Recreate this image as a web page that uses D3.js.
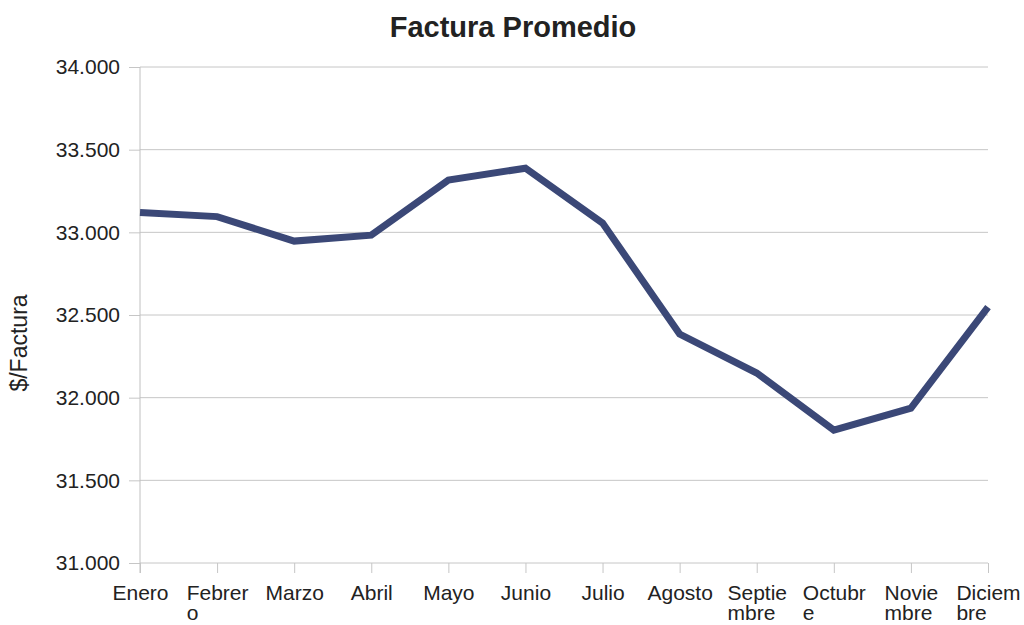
<!DOCTYPE html>
<html>
<head>
<meta charset="utf-8">
<script src="https://cdn.jsdelivr.net/npm/d3@7"></script>
<style>
  body { margin: 0; background: #fff; }
  text { font-family: "Liberation Sans", Arial, sans-serif; fill: #222; }
</style>
</head>
<body>
<div id="chart"></div>
<script>
const months = ["Enero", "Febrero", "Marzo", "Abril", "Mayo", "Junio", "Julio", "Agosto", "Septiembre", "Octubre", "Noviembre", "Diciembre"];
// wrapped the way the original chart breaks them
const monthLabels = [["Enero"], ["Febrer", "o"], ["Marzo"], ["Abril"], ["Mayo"], ["Junio"], ["Julio"], ["Agosto"], ["Septie", "mbre"], ["Octubr", "e"], ["Novie", "mbre"], ["Diciem", "bre"]];
const facturaValues = [33120, 33095, 32947, 32983, 33316, 33388, 33056, 32385, 32149, 31804, 31937, 32548];
const yTicks = [31000, 31500, 32000, 32500, 33000, 33500, 34000];

const width = 1024, height = 625;
const margin = { top: 67, right: 36, bottom: 62, left: 140 };

const svg = d3.select("#chart")
  .append("svg")
  .attr("width", width)
  .attr("height", height);

const x = d3.scalePoint()
  .domain(months)
  .range([margin.left, width - margin.right]);

const y = d3.scaleLinear()
  .domain([31000, 34000])
  .range([height - margin.bottom, margin.top]);

// y axis
const yAxis = svg.append("g")
  .attr("transform", `translate(${margin.left},0)`)
  .call(d3.axisLeft(y).tickValues(yTicks).tickSize(11).tickPadding(9)
    .tickFormat(d => d3.format(".3f")(d / 1000)));
yAxis.select(".domain").remove();
yAxis.selectAll(".tick line").attr("stroke", "#c6c6c6");
yAxis.selectAll(".tick text").style("font-size", "21px").attr("fill", "#222");

// horizontal grid
svg.append("g")
  .selectAll("line")
  .data(yTicks)
  .join("line")
  .attr("x1", margin.left)
  .attr("x2", width - margin.right)
  .attr("y1", d => y(d))
  .attr("y2", d => y(d))
  .attr("stroke", "#c6c6c6")
  .attr("stroke-width", 1);

// left axis line
svg.append("line")
  .attr("x1", margin.left).attr("x2", margin.left)
  .attr("y1", margin.top).attr("y2", height - margin.bottom + 10)
  .attr("stroke", "#c0c0c0");

// x axis
const xAxis = svg.append("g")
  .attr("transform", `translate(0,${height - margin.bottom})`)
  .call(d3.axisBottom(x).tickSize(10).tickFormat(""));
xAxis.select(".domain").remove();
xAxis.selectAll(".tick line").attr("stroke", "#c6c6c6");

const labelGroups = xAxis.selectAll(".tick")
  .append("text")
  .attr("y", 37)
  .attr("text-anchor", "start")
  .style("font-size", "21px")
  .attr("fill", "#222")
  .each(function(d, i) {
    const t = d3.select(this);
    monthLabels[i].forEach((line, j) => {
      t.append("tspan").attr("x", 0).attr("dy", j === 0 ? 0 : 20).text(line);
    });
  });

// center the wrapped block on the tick, lines left-aligned
labelGroups.each(function() {
  const w = this.getBBox().width;
  d3.select(this).selectAll("tspan").attr("x", -w / 2);
});

// line
const line = d3.line()
  .x((d, i) => x(months[i]))
  .y(d => y(d));

svg.append("path")
  .datum(facturaValues)
  .attr("fill", "none")
  .attr("stroke", "#3b4877")
  .attr("stroke-width", 7)
  .attr("stroke-linejoin", "miter")
  .attr("d", line);

// title
svg.append("text")
  .attr("x", 513)
  .attr("y", 37)
  .attr("text-anchor", "middle")
  .style("font-size", "29px")
  .style("font-weight", "bold")
  .text("Factura Promedio");

// y label
svg.append("text")
  .attr("transform", `translate(27,343) rotate(-90)`)
  .attr("text-anchor", "middle")
  .style("font-size", "23px")
  .text("$/Factura");
</script>
</body>
</html>
